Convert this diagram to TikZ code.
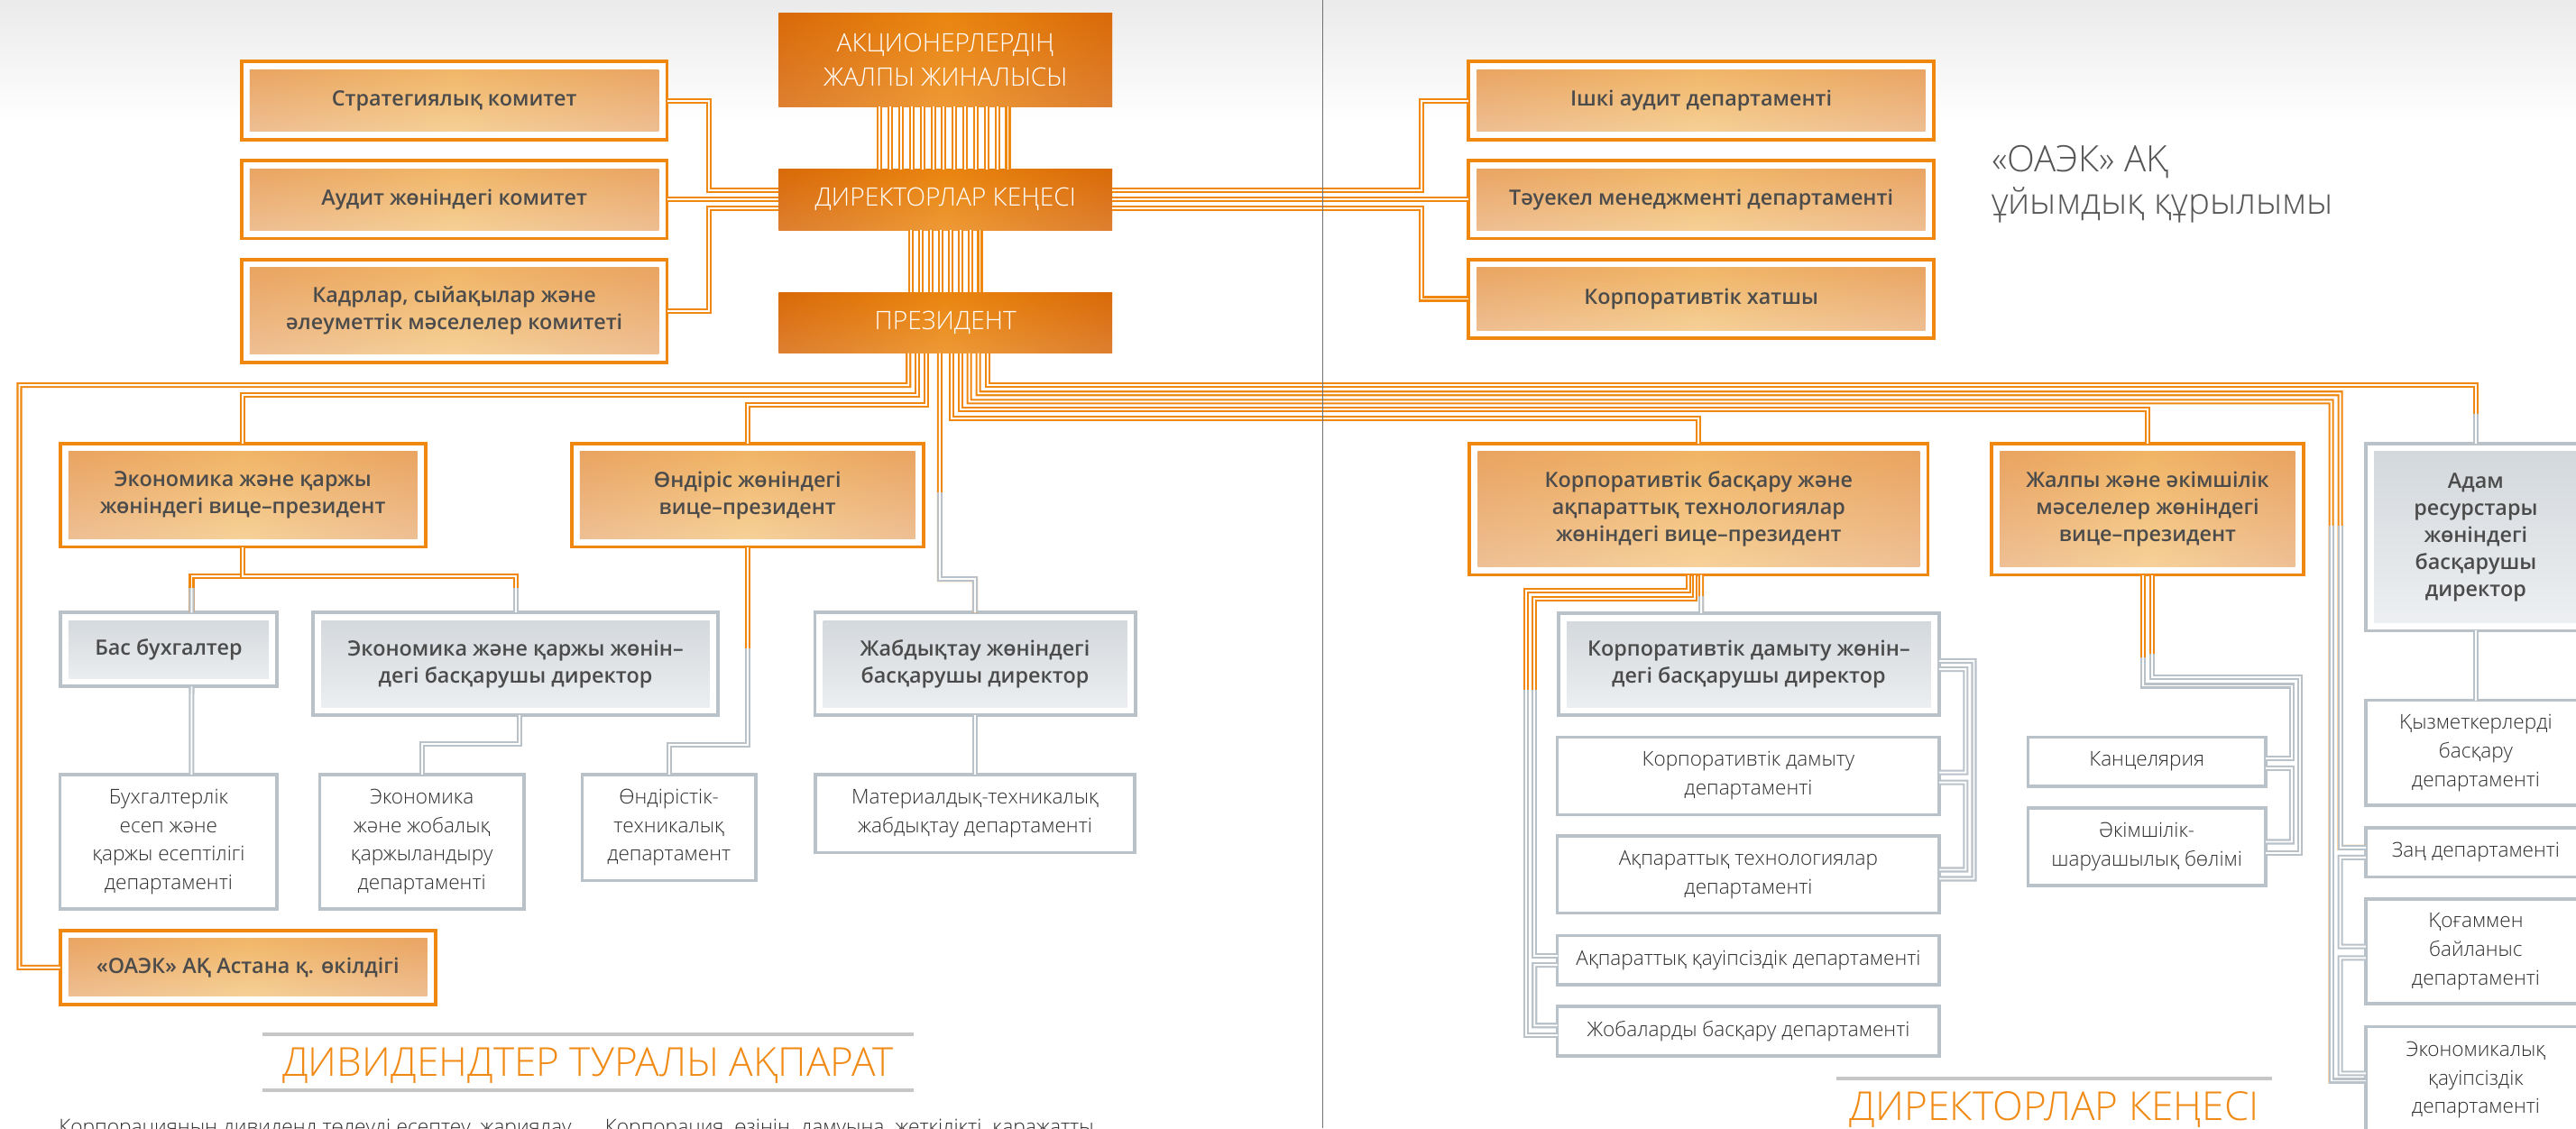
\documentclass[tikz,border=0pt]{standalone}
\usepackage{fontspec}
\setmainfont{Open Sans}
\IfFontExistsTF{Open Sans Light}{\newfontfamily\lightfont{Open Sans Light}}{\newcommand\lightfont{\mdseries}}
\IfFontExistsTF{Open Sans Semibold}{\newfontfamily\semifont{Open Sans Semibold}}{\newcommand\semifont{\bfseries}}
\usetikzlibrary{positioning}

\definecolor{lineOrange}{HTML}{F0870F}
\definecolor{lineGray}{HTML}{B9C1C9}
\definecolor{boxText}{HTML}{4B4B4B}
\definecolor{deptText}{HTML}{2F2F2F}
\definecolor{headOrange}{HTML}{F08A14}
\definecolor{ruleGray}{HTML}{C6C6C6}
\definecolor{foldGray}{HTML}{707070}
\definecolor{titleGray}{HTML}{555555}
\definecolor{topA}{HTML}{E27508}
\definecolor{topB}{HTML}{EAA05A}
\definecolor{topEdge}{HTML}{D25F08}
\definecolor{topMid}{HTML}{F29514}
\definecolor{vpA}{HTML}{EEAA5C}
\definecolor{vpB}{HTML}{F7DCB8}
\definecolor{vpEdge}{HTML}{E0925E}
\definecolor{vpMid}{HTML}{F6C46C}
\definecolor{grA}{HTML}{D2D7DB}
\definecolor{grB}{HTML}{EEF0F2}

\newcommand\boxfont{\fontsize{7.3}{9.4}\selectfont\semifont}
\newcommand\deptfont{\fontsize{7.05}{9.9}\selectfont\lightfont}
\newcommand\topfont{\fontsize{8.8}{12}\selectfont\lightfont}
\newcommand\headfont{\fontsize{13.8}{16}\selectfont\lightfont}
\newcommand\titlefont{\fontsize{12.6}{14.8}\selectfont\lightfont}
\newcommand\bodyfont{\fontsize{7.1}{9}\selectfont\lightfont}
\newcommand\insetshade[1]{\shade[#1] ([shift={(0.1cm,0.1cm)}]path picture bounding box.south west) rectangle ([shift={(-0.1cm,-0.1cm)}]path picture bounding box.north east);}

\tikzset{
  wh/.style 2 args={minimum width=#1*0.02cm, minimum height=#2*0.02cm},
  tbox/.style={inner sep=0pt, outer sep=0pt, align=center, text=white, font=\topfont,
    top color=topA, bottom color=topB,
    path picture={\shade[left color=topEdge, right color=topEdge, middle color=topMid, opacity=0.5]
      (path picture bounding box.south west) rectangle (path picture bounding box.north east);}},
  obox/.style={draw=lineOrange, line width=1.2pt, fill=white, inner sep=0pt, outer sep=0pt,
    align=center, text=boxText, font=\boxfont,
    path picture={\insetshade{top color=vpA, bottom color=vpB}
      \insetshade{left color=vpEdge, right color=vpEdge, middle color=vpMid, opacity=0.35}}},
  gbox/.style={draw=lineGray, line width=1.2pt, fill=white, inner sep=0pt, outer sep=0pt,
    align=center, text=boxText, font=\boxfont,
    path picture={\insetshade{top color=grA, bottom color=grB}}},
  dbox/.style={draw=lineGray, line width=1.1pt, fill=white, inner sep=0pt, outer sep=0pt,
    align=center, text=deptText, font=\deptfont},
  oline/.style={draw=lineOrange, line width=0.65pt, double=white, double distance=0.6pt},
  gline/.style={draw=lineGray, line width=0.65pt, double=white, double distance=0.6pt},
  rule/.style={draw=ruleGray, line width=1.1pt}
}

\begin{document}
\begin{tikzpicture}[x=0.02cm, y=-0.02cm]
\useasboundingbox (0,0) rectangle (1568,687);
\clip (0,0) rectangle (1568,687);
\shade[top color=black!8, bottom color=white] (0,0) rectangle (1568,75);

\node[tbox, wh={203}{57.3}] (sh) at (575.5,36.4) {АКЦИОНЕРЛЕРДІҢ\\ЖАЛПЫ ЖИНАЛЫСЫ};
\node[tbox, wh={203}{37}] (board) at (575.5,121.5) {ДИРЕКТОРЛАР КЕҢЕСІ};
\node[tbox, wh={203}{37}] (pres) at (575.5,196.5) {ПРЕЗИДЕНТ};

\node[obox, wh={259}{47.5}] (strat) at (276.5,61.25) {Стратегиялық комитет};
\node[obox, wh={259}{47.5}] (audit) at (276.5,121.5) {Аудит жөніндегі комитет};
\node[obox, wh={259}{62.5}] (hrcom) at (276.5,189.25) {Кадрлар, сыйақылар және\\әлеуметтік мәселелер комитеті};
\node[obox, wh={283}{47.5}] (inaudit) at (1035.5,61.25) {Ішкі аудит департаменті};
\node[obox, wh={283}{47.5}] (risk) at (1035.5,121.5) {Тәуекел менеджменті департаменті};
\node[obox, wh={283}{48}] (secr) at (1035.5,182) {Корпоративтік хатшы};

\node[obox, wh={222.4}{63}] (ecvp) at (147.8,301.5) {Экономика және қаржы\\жөніндегі вице–президент};
\node[obox, wh={214}{63}] (prodvp) at (455,301.5) {Өндіріс жөніндегі\\вице–президент};
\node[obox, wh={279}{80}] (corpvp) at (1034,310) {Корпоративтік басқару және\\ақпараттық технологиялар\\жөніндегі вице–президент};
\node[obox, wh={189.7}{80}] (genvp) at (1307.2,310) {Жалпы және әкімшілік\\мәселелер жөніндегі\\вице–президент};
\node[gbox, wh={134}{114}] (hrdir) at (1507,327) {Адам\\ресурстары\\жөніндегі\\басқарушы\\директор};

\node[gbox, wh={132}{45}] (chacc) at (102.65,395.5) {Бас бухгалтер};
\node[gbox, wh={246.4}{62.5}] (ecdir) at (313.8,404.25) {Экономика және қаржы жөнін–\\дегі басқарушы директор};
\node[gbox, wh={195}{62.5}] (supdir) at (593.5,404.25) {Жабдықтау жөніндегі\\басқарушы директор};
\node[gbox, wh={231.7}{62.2}] (cddir) at (1064.5,404.4) {Корпоративтік дамыту жөнін–\\дегі басқарушы директор};

\node[dbox, wh={132}{81.8}] (accdep) at (102.6,512.6) {Бухгалтерлік\\есеп және\\қаржы есептілігі\\департаменті};
\node[dbox, wh={124.5}{81.8}] (ecprojdep) at (256.75,512.6) {Экономика\\және жобалық\\қаржыландыру\\департаменті};
\node[dbox, wh={105.6}{64.3}] (proddep) at (407.2,503.85) {Өндірістік-\\техникалық\\департамент};
\node[dbox, wh={194.5}{47.3}] (matdep) at (593.5,495.35) {Материалдық-техникалық\\жабдықтау департаменті};
\node[obox, wh={228.4}{45.3}] (astana) at (150.8,589) {«ОАЭК» АҚ Астана қ. өкілдігі};

\node[dbox, wh={232.5}{47.2}] (cddep) at (1064.25,472.3) {Корпоративтік дамыту\\департаменті};
\node[dbox, wh={232.5}{47}] (itdep) at (1064.25,532.5) {Ақпараттық технологиялар\\департаменті};
\node[dbox, wh={232.5}{30.1}] (isdep) at (1064.25,584.55) {Ақпараттық қауіпсіздік департаменті};
\node[dbox, wh={232.5}{30.3}] (pmdep) at (1064.25,627.85) {Жобаларды басқару департаменті};
\node[dbox, wh={144.5}{30}] (office) at (1306.75,463.7) {Канцелярия};
\node[dbox, wh={144.5}{47}] (admdep) at (1306.75,515.5) {Әкімшілік-\\шаруашылық бөлімі};
\node[dbox, wh={134}{64}] (staffdep) at (1507,458.4) {Қызметкерлерді\\басқару\\департаменті};
\node[dbox, wh={134}{30}] (lawdep) at (1507,519) {Заң департаменті};
\node[dbox, wh={134}{63.5}] (prdep) at (1507,579.25) {Қоғаммен\\байланыс\\департаменті};
\node[dbox, wh={134}{65}] (esdep) at (1507,657.5) {Экономикалық\\қауіпсіздік\\департаменті};

\node[anchor=north west, inner sep=0pt, align=left, text=titleGray, font=\titlefont] (orgtitle) at (1212,88) {«ОАЭК» АҚ\\ұйымдық құрылымы};
\node[anchor=base, inner sep=0pt, text=headOrange, font=\headfont] (divhead) at (358,655.3) {ДИВИДЕНДТЕР ТУРАЛЫ АҚПАРАТ};
\node[anchor=base, inner sep=0pt, text=headOrange, font=\headfont] (bdhead) at (1250.5,682) {ДИРЕКТОРЛАР КЕҢЕСІ};
\node[anchor=base west, inner sep=0pt, text=deptText, font=\bodyfont] (body1) at (35.5,690.5) {\makebox[6.24cm][s]{Корпорацияның дивиденд төлеуді есептеу, жариялау}};
\node[anchor=base west, inner sep=0pt, text=deptText, font=\bodyfont] (body2) at (368,690.5) {\makebox[5.95cm][s]{Корпорация өзінің дамуына жеткілікті қаражатты}};
\draw[rule] (160,629.7) -- (556,629.7);
\draw[rule] (160,663.8) -- (556,663.8);
\draw[rule] (1118,656.5) -- (1383,656.5);

\foreach \i in {0,...,12}
  \draw[oline] ([xshift={(-40+6.5*\i)*0.02cm}]sh.south) -- ([xshift={(-40+6.5*\i)*0.02cm}]board.north);
\foreach \i in {0,...,7}
  \draw[oline] ([xshift={(-21+6*\i)*0.02cm}]board.south) -- ([xshift={(-21+6*\i)*0.02cm}]pres.north);

\draw[oline] (strat.east) -- (431.5,61.25) |- ([yshift=0.11cm]board.west);
\draw[oline] (audit) -- (board);
\draw[oline] (hrcom.east) -- (431.5,189.25) |- ([yshift=-0.11cm]board.west);
\draw[oline] (inaudit.west) -- (865,61.25) |- ([yshift=0.11cm]board.east);
\draw[oline] (risk) -- (board);
\draw[oline] (secr.west) -- (865,182) |- ([yshift=-0.11cm]board.east);

\draw[oline] ([xshift=-0.45cm]pres.south) -- ++(0,19.5) -- (11.8,234.5) |- (astana.west);
\draw[oline] ([xshift=-0.34cm]pres.south) -- ++(0,25.5) -| (ecvp.north);
\draw[oline] ([xshift=-0.23cm]pres.south) -- ++(0,31.5) -| (prodvp.north);
\draw[oline] ([xshift=-0.07cm]pres.south) -- (572,352.5) -| (supdir.north);
\draw[gline] (572,300) -- (572,352.5) -| (supdir.north);
\draw[oline] ([xshift=0.07cm]pres.south) -- ++(0,39.5) -| (corpvp.north);
\draw[oline] ([xshift=0.18cm]pres.south) -- ++(0,34.5) -| (genvp.north);
\draw[oline] ([xshift=0.29cm]pres.south) -- ++(0,29.5) -- (1419,244.5) |- ([yshift=-0.01cm]esdep.west);
\draw[gline] (1419,320) |- ([yshift=-0.01cm]esdep.west);
\draw[oline] ([xshift=0.40cm]pres.south) -- ++(0,24.5) -- (1424.5,239.5) |- ([yshift=0.06cm]lawdep.west);
\draw[gline] (1424.5,320) |- ([yshift=0.06cm]lawdep.west);
\draw[oline] ([xshift=0.51cm]pres.south) -- ++(0,19.5) -| (hrdir.north);
\draw[gline] (1507,252) -- (hrdir.north);

\draw[oline] (ecvp.south) -- ++(0,18) -| ([xshift=0.28cm]chacc.north);
\draw[oline] (ecvp.south) -- ++(0,18) -| (ecdir.north);
\draw[gline] (116.65,358) -- ([xshift=0.28cm]chacc.north);
\draw[gline] (313.8,358) -- (ecdir.north);
\draw[gline] ([xshift=0.28cm]chacc.south) -- ([xshift=0.28cm]accdep.north);
\draw[gline] ([xshift=0.044cm]ecdir.south) -- ++(0,17.5) -| (ecprojdep.north);
\draw[oline] (prodvp.south) -- ++(0,120.5) -| (proddep.north);
\draw[gline] (455,395) -- (455,453.5) -| (proddep.north);
\draw[gline] (supdir) -- (matdep);

\draw[oline] ([xshift=-0.13cm]corpvp.south) -- ++(0,9.5) -- (929,359.5) |- ([yshift=-0.05cm]pmdep.west);
\draw[gline] (929,420) |- ([yshift=-0.05cm]pmdep.west);
\draw[oline] ([xshift=-0.05cm]corpvp.south) -- ++(0,14.5) -- (934,364.5) |- ([yshift=0.05cm]isdep.west);
\draw[gline] (934,420) |- ([yshift=0.05cm]isdep.west);
\draw[gline] ([yshift=-0.06cm]isdep.west) -- (934,587.55) |- ([yshift=0.07cm]pmdep.west);
\draw[oline] ([xshift=0.03cm]corpvp.south) -- ([xshift=-0.58cm]cddir.north);
\draw[gline] (1035.5,363) -- ([xshift=-0.58cm]cddir.north);
\draw[gline] ([yshift=0.04cm]cddir.east) -- (1201.5,402.4) |- ([yshift=-0.05cm]itdep.east);
\draw[gline] ([yshift=-0.06cm]cddir.east) -- (1196.5,407.4) |- ([yshift=0.04cm]cddep.east);
\draw[gline] ([yshift=-0.08cm]cddep.east) -- (1196.5,476.3) |- ([yshift=0.06cm]itdep.east);

\draw[oline] ([xshift=-0.05cm]genvp.south) -- ++(0,67.5) -- (1395,417.5) |- ([yshift=0.04cm]office.east);
\draw[gline] (1304.7,400) -- (1304.7,417.5) -- (1395,417.5) |- ([yshift=0.04cm]office.east);
\draw[oline] ([xshift=0.05cm]genvp.south) -- ++(0,62.5) -- (1400,412.5) |- ([yshift=-0.08cm]admdep.east);
\draw[gline] (1309.7,398) -- (1309.7,412.5) -- (1400,412.5) |- ([yshift=-0.08cm]admdep.east);
\draw[gline] ([yshift=-0.08cm]office.east) -- (1395,467.7) |- ([yshift=0.06cm]admdep.east);

\draw[gline] (hrdir) -- (staffdep);
\draw[gline] ([yshift=-0.06cm]lawdep.west) -- (1424.5,522) |- ([yshift=0.06cm]prdep.west);
\draw[gline] ([yshift=-0.08cm]prdep.west) -- (1424.5,583.25) |- ([yshift=0.08cm]esdep.west);

\draw[foldGray, line width=0.45pt] (805,0) -- (805,687);
\end{tikzpicture}
\end{document}
